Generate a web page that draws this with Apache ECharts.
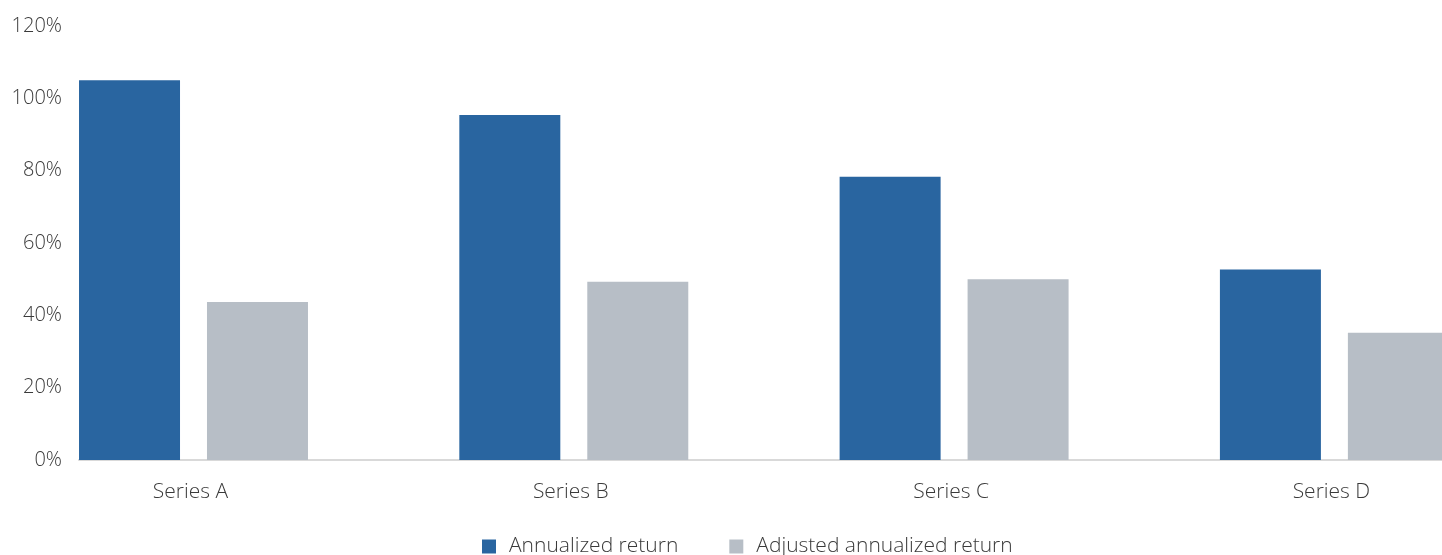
<!DOCTYPE html>
<html>
<head>
<meta charset="utf-8">
<script src="https://cdn.jsdelivr.net/npm/echarts@6/dist/echarts.min.js"></script>
<style>
  html, body { margin: 0; padding: 0; background: #ffffff; }
  #chart { width: 1442px; height: 555px; }
</style>
</head>
<body>
<div id="chart"></div>
<script>
// Categories and values (fractions, shown as percentages)
const categories = ['Series A', 'Series B', 'Series C', 'Series D'];
const annualized = [1.050, 0.954, 0.783, 0.527];
const adjusted = [0.437, 0.493, 0.500, 0.352];
const seriesNames = ['Annualized return', 'Adjusted annualized return'];
const yTicks = { min: 0, max: 1.2, interval: 0.2 };

const FONT = '"Open Sans", "Noto Sans", sans-serif';
const TEXT = '#3a3a3a';

const chart = echarts.init(document.getElementById('chart'), null, { renderer: 'canvas' });

chart.setOption({
  animation: false,
  backgroundColor: '#ffffff',
  textStyle: { fontFamily: FONT },
  legend: {
    left: 482,
    top: 536,
    padding: 0,
    itemWidth: 14,
    itemHeight: 14,
    itemGap: 51,
    icon: 'rect',
    data: seriesNames,
    textStyle: { fontFamily: FONT, fontSize: 21, fontWeight: 300, color: TEXT, padding: [0, 0, 0, 8] }
  },
  grid: [
    // plot grid for the bars (category bands run past the right edge)
    { left: 3.35, top: 26, width: 1521.2, height: 434, outerBoundsMode: 'none' },
    // frame grid carrying the baseline and percentage labels
    { left: 79, top: 26, right: 0, height: 434, outerBoundsMode: 'none' }
  ],
  xAxis: [
    {
      gridIndex: 0,
      type: 'category',
      data: categories,
      axisLine: { show: false },
      axisTick: { show: false },
      axisLabel: { fontFamily: FONT, fontSize: 21, fontWeight: 300, color: TEXT, margin: 22, padding: [0, 6, 0, 0] }
    },
    {
      gridIndex: 1,
      type: 'value',
      min: 0,
      max: 1,
      axisLine: { show: true, lineStyle: { color: '#d9d9d9', width: 2 } },
      axisTick: { show: false },
      axisLabel: { show: false },
      splitLine: { show: false }
    }
  ],
  yAxis: [
    {
      gridIndex: 0,
      type: 'value',
      min: yTicks.min,
      max: yTicks.max,
      interval: yTicks.interval,
      show: false
    },
    {
      gridIndex: 1,
      type: 'value',
      min: yTicks.min,
      max: yTicks.max,
      interval: yTicks.interval,
      axisLine: { show: false },
      axisTick: { show: false },
      splitLine: { show: false },
      axisLabel: {
        fontFamily: FONT,
        fontSize: 20,
        fontWeight: 300,
        color: TEXT,
        margin: 17,
        formatter: v => Math.round(v * 100) + '%'
      }
    }
  ],
  series: [
    {
      name: seriesNames[0],
      type: 'bar',
      xAxisIndex: 0,
      yAxisIndex: 0,
      data: annualized,
      barWidth: 101,
      barGap: '26.7%',
      itemStyle: { color: '#2965a0' }
    },
    {
      name: seriesNames[1],
      type: 'bar',
      xAxisIndex: 0,
      yAxisIndex: 0,
      data: adjusted,
      barWidth: 101,
      barGap: '26.7%',
      itemStyle: { color: '#b7bec6' }
    }
  ]
});
</script>
</body>
</html>
